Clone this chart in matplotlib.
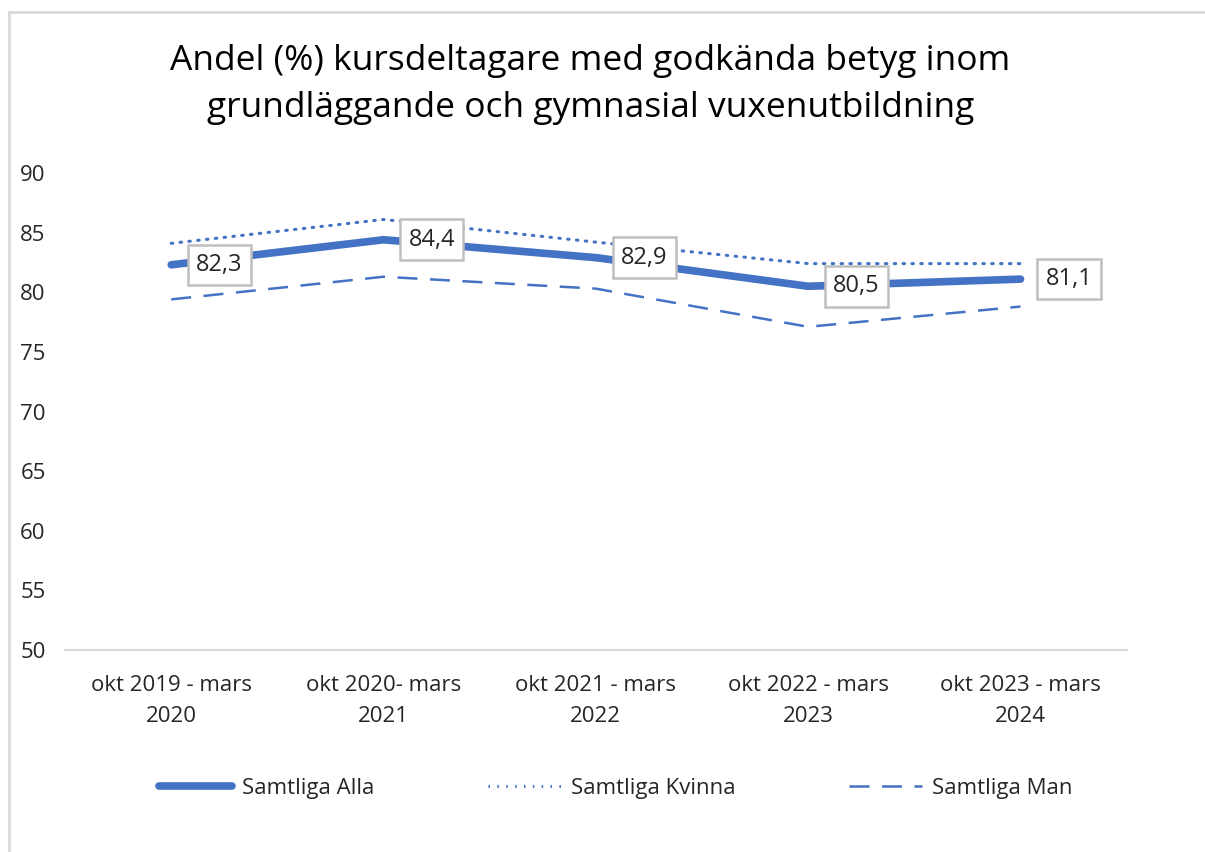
import matplotlib.pyplot as plt
from matplotlib.lines import Line2D

plt.rcParams['font.family'] = ['Open Sans', 'DejaVu Sans']

perioder = ["okt 2019 - mars\n2020", "okt 2020- mars\n2021", "okt 2021 - mars\n2022",
            "okt 2022 - mars\n2023", "okt 2023 - mars\n2024"]
alla = [82.3, 84.4, 82.9, 80.5, 81.1]
kvinna = [84.1, 86.1, 84.2, 82.4, 82.4]
man = [79.4, 81.3, 80.3, 77.1, 78.8]

blue = '#4472C4'
text_col = '#262626'


def main():
    fig = plt.figure(figsize=(12.05, 8.52), dpi=100)
    ax = fig.add_axes([0.054, 0.237, 0.881, 0.560])
    x = range(len(perioder))

    ax.plot(x, alla, color=blue, lw=5.5, solid_capstyle='round', solid_joinstyle='round',
            label='Samtliga Alla', zorder=3)
    ax.plot(x, kvinna, color=blue, lw=2.2, linestyle=(0, (0.5, 2.4)), dash_capstyle='round',
            label='Samtliga Kvinna', zorder=2)
    ax.plot(x, man, color=blue, lw=1.8, linestyle=(0, (8, 5)), label='Samtliga Man', zorder=2)

    # value boxes to the right of each point
    for i, v in enumerate(alla):
        ax.annotate(f"{v:.1f}".replace('.', ','), (i, v), xytext=(18, 0),
                    textcoords='offset points', ha='left', va='center', fontsize=17,
                    color=text_col, zorder=5,
                    bbox=dict(boxstyle='square,pad=0.35', fc='white', ec='#BFBFBF', lw=1.8))

    ax.set_xlim(-0.5, 4.5)
    ax.set_ylim(50, 90)
    ax.set_yticks(range(50, 91, 5))
    ax.set_xticks(list(x))
    ax.set_xticklabels(perioder, fontsize=16, color=text_col, linespacing=1.6)
    ax.tick_params(axis='y', labelsize=16, labelcolor=text_col, length=0, pad=14)
    ax.tick_params(axis='x', length=0, pad=18)
    for s in ['top', 'right', 'left']:
        ax.spines[s].set_visible(False)
    ax.spines['bottom'].set_color('#D9D9D9')
    ax.spines['bottom'].set_linewidth(1.5)

    fig.text(0.49, 0.901, "Andel (%) kursdeltagare med godkända betyg inom\n"
             "grundläggande och gymnasial vuxenutbildning",
             ha='center', va='center', fontsize=25.5, color='black', linespacing=1.48)

    handles = [Line2D([], [], color=blue, lw=5.5, solid_capstyle='round'),
               Line2D([], [], color=blue, lw=2.2, linestyle=(0, (0.5, 2.4))),
               Line2D([], [], color=blue, lw=1.8, linestyle=(0, (8, 5)))]
    fig.legend(handles, ['Samtliga Alla', 'Samtliga Kvinna', 'Samtliga Man'],
               loc='center', bbox_to_anchor=(0.511, 0.075), ncol=3, frameon=False,
               fontsize=16, handlelength=3.3, handletextpad=0.45, columnspacing=5.1,
               labelcolor=text_col)

    # chart area border (top and left edges)
    fig.add_artist(Line2D([9 / 1205, 9 / 1205], [0, 1 - 12 / 852], transform=fig.transFigure,
                          color='#D9D9D9', lw=2))
    fig.add_artist(Line2D([9 / 1205, 1], [1 - 12 / 852, 1 - 12 / 852], transform=fig.transFigure,
                          color='#D9D9D9', lw=2))

    fig.savefig('out.png', dpi=100, facecolor='white')


if __name__ == "__main__":
    main()
